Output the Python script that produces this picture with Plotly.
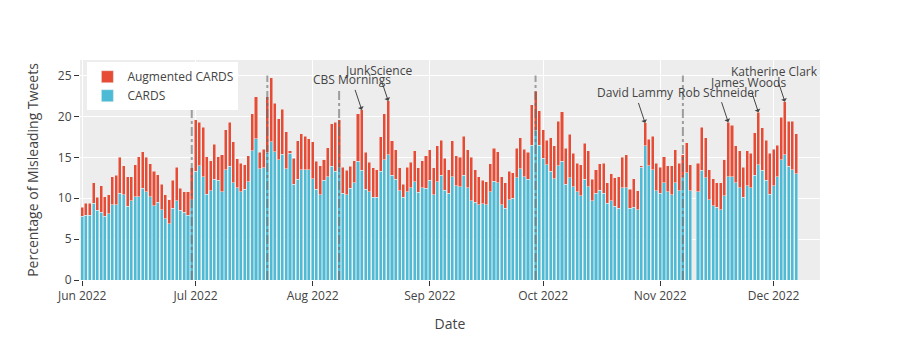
import pandas as pd
import plotly.graph_objects as go

# ----------------------------
# Dados
# ----------------------------
start_date = "2022-06-01"

# % CARDS por dia (a partir de 1 jun 2022); None = dia sem dados
cards = [
    7.8, 7.9, 7.9, 9.4, 8.5, 8.3, 7.8, 8.1, 9.2, 9.2,
    10.6, 10.4, 9.0, 9.7, 10.2, 10.2, 11.2, 10.8, 10.2, 9.1,
    9.5, 8.6, 7.5, 6.9, 8.8, 9.7, 8.5, 8.3, 7.9, 9.8,
    13.3, 14.0, 12.6, 10.5, 10.9, 12.3, 12.2, 10.8, 13.5, 13.9,
    11.9, 11.3, 10.8, 11.1, 12.0, 15.8, 17.3, 13.6, 13.7, 15.6,
    16.9, 15.7, 14.7, 15.4, 13.6, 15.5, 11.7, 12.3, 13.5, 13.5,
    13.5, 12.4, 11.1, 10.4, 12.2, 12.6, 13.9, 13.3, 13.7, 10.6,
    10.4, 11.2, 11.9, 14.5, 13.4, 11.1, 10.8, 10.1, 10.1, 13.3,
    14.7, 15.3, 12.8, 12.3, 10.9, 10.1, 10.8, 11.3, 12.0, 10.7,
    11.3, 11.2, 12.2, 10.4, 12.0, 12.8, 11.0, 10.6, 12.6, 11.5,
    11.4, 12.8, 11.3, 9.7, 9.5, 9.2, 9.3, 9.2, 10.8, 12.1,
    11.9, 9.2, 8.8, 9.8, 10.0, 12.5, 13.6, 12.6, 12.3, 16.5,
    18.3, 16.5, 14.9, 14.1, 13.3, 12.4, 14.0, 14.5, 11.7, 12.5,
    11.4, 10.8, 10.3, 12.3, 11.4, 9.7, 10.6, 11.0, 10.6, 9.4,
    9.7, 9.0, 8.8, 11.3, 11.3, 8.8, 8.9, 8.6, 13.8, 16.4,
    14.0, 13.5, 10.9, 10.6, 11.9, 10.8, 10.4, 11.9, 10.9, 12.5,
    13.1, 10.9, None, 10.8, 13.4, 12.5, 9.8, 9.1, 8.9, 8.6,
    10.3, 12.6, 12.6, 11.9, 11.3, 10.1, 11.5, 11.3, 12.8, 14.1,
    13.4, 12.2, 10.5, 11.5, 12.6, 14.7, 15.3, 13.9, 13.5, 13.0,
]

# % total (CARDS + Augmented CARDS)
total = [
    8.9, 9.4, 9.4, 11.9, 10.1, 11.5, 10.2, 10.4, 12.6, 12.8,
    15.0, 14.0, 12.6, 12.6, 14.1, 15.1, 15.7, 15.0, 14.2, 13.3,
    12.9, 11.7, 10.4, 9.8, 12.2, 13.8, 11.2, 10.8, 10.8, 13.7,
    19.6, 19.3, 18.7, 15.1, 14.6, 16.6, 15.1, 15.3, 18.4, 19.3,
    16.9, 14.8, 14.3, 14.1, 15.2, 20.3, 22.4, 15.6, 16.0, 22.4,
    24.7, 21.6, 19.7, 20.9, 18.1, 15.8, 14.9, 17.0, 17.9, 17.6,
    17.3, 16.9, 14.5, 14.0, 14.7, 16.2, 19.1, 19.3, 19.6, 13.8,
    13.4, 13.9, 14.6, 20.3, 20.8, 15.6, 14.4, 13.7, 13.5, 17.5,
    20.3, 21.9, 17.0, 15.9, 13.7, 11.7, 13.8, 14.4, 15.8, 13.7,
    14.6, 15.2, 15.9, 13.7, 16.4, 17.1, 14.9, 13.5, 17.0, 15.2,
    15.0, 17.6, 15.9, 15.0, 13.5, 12.6, 12.2, 12.0, 14.2, 16.1,
    15.7, 12.6, 11.9, 13.3, 13.1, 16.1, 17.4, 16.0, 15.6, 21.4,
    23.1, 20.7, 18.4, 17.1, 17.4, 16.4, 19.4, 20.6, 16.1, 17.8,
    15.5, 14.3, 14.1, 16.7, 15.8, 12.3, 13.5, 14.2, 14.3, 11.9,
    13.0, 12.5, 12.6, 15.0, 15.3, 11.1, 12.4, 10.9, 14.0, 19.2,
    17.2, 17.6, 14.3, 13.8, 15.1, 14.0, 14.0, 15.9, 14.3, 15.3,
    16.8, 14.1, None, 14.3, 18.7, 17.4, 13.5, 12.4, 11.9, 11.9,
    14.7, 19.3, 18.9, 16.4, 15.8, 13.8, 15.8, 15.5, 18.0, 20.5,
    18.6, 17.1, 15.5, 16.0, 16.5, 19.9, 21.8, 19.4, 19.4, 17.9,
]

# Eventos (linhas verticais)
event_dates = ["2022-06-30", "2022-07-20", "2022-08-08", "2022-09-29", "2022-11-07"]
event_heights = [21.0, 25.0, 23.3, 25.0, 25.0]

# Anotações
annot_dates = ["2022-08-14", "2022-08-21", "2022-10-28", "2022-11-19", "2022-11-27", "2022-12-04"]
annot_labels = ["CBS Mornings", "JunkScience", "David Lammy", "Rob Schneider", "James Woods", "Katherine Clark"]

dates = pd.date_range(start_date, periods=len(cards), freq="D")
augmented = [None if (t is None or c is None) else round(t - c, 2) for t, c in zip(total, cards)]
total_by_date = dict(zip(dates.strftime("%Y-%m-%d"), total))

fig = go.Figure()
fig.add_trace(go.Bar(x=dates, y=cards, name="CARDS", marker_color="#4DBBD5"))
fig.add_trace(go.Bar(x=dates, y=augmented, name="Augmented CARDS", marker_color="#E64B35"))

for d, h in zip(event_dates, event_heights):
    fig.add_shape(type="line", xref="x", yref="y", x0=d, x1=d, y0=0, y1=h,
                  line=dict(color="dimgray", width=2, dash="dashdot"), opacity=0.6)

for d, txt in zip(annot_dates, annot_labels):
    fig.add_annotation(x=d, y=total_by_date[d], text=txt, showarrow=True,
                       arrowhead=1, ax=-10, ay=-30, font=dict(size=12))

# a página tem 8px de margem no body: compensar no tamanho/margens
fig.update_layout(
    template="ggplot2",
    barmode="stack",
    width=892, height=352,
    margin=dict(l=72, r=80, t=52, b=80),
    font=dict(family="Open Sans", size=12, color="#444"),
    legend=dict(x=0.01, y=0.99, bgcolor="white", font=dict(size=12)),
    xaxis=dict(title=dict(text="Date", font=dict(size=14)),
               range=["2022-05-31 10:00", "2022-12-13 07:00"]),
    yaxis=dict(title=dict(text="Percentage of Misleading Tweets", font=dict(size=14)),
               range=[0, 26.9]),
)

fig.write_html("out.html")
